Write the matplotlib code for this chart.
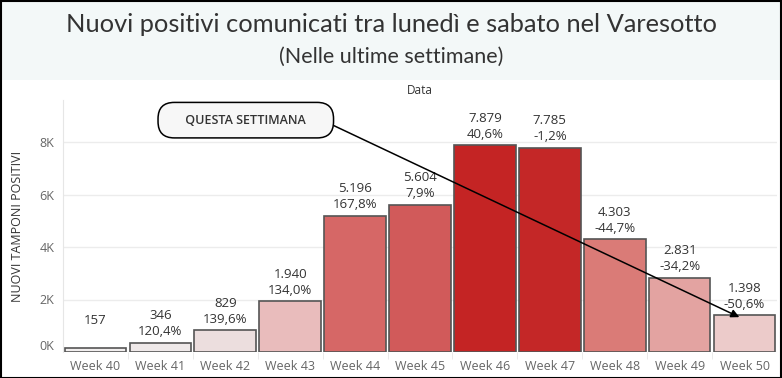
import matplotlib.pyplot as plt
from matplotlib.patches import Rectangle
from matplotlib.transforms import ScaledTranslation

plt.rcParams['font.family'] = ['Open Sans', 'DejaVu Sans']

# data
weeks = ['Week 40', 'Week 41', 'Week 42', 'Week 43', 'Week 44', 'Week 45',
         'Week 46', 'Week 47', 'Week 48', 'Week 49', 'Week 50']
positivi = [157, 346, 829, 1940, 5196, 5604, 7879, 7785, 4303, 2831, 1398]
variazione = ['', '120,4%', '139,6%', '134,0%', '167,8%', '7,9%',
              '40,6%', '-1,2%', '-44,7%', '-34,2%', '-50,6%']
y_ticks = [0, 2000, 4000, 6000, 8000]
y_tick_labels = ['0K', '2K', '4K', '6K', '8K']

bar_colors = ['#f1eeee', '#efe9e9', '#ecdede', '#e9bcbc', '#d66766', '#d15a5a',
              '#c42424', '#c42727', '#da7b77', '#e3a3a1', '#eccbca']

W, H = 782, 378
fig = plt.figure(figsize=(W / 100, H / 100), dpi=100)

# title band
fig.patches.append(Rectangle((0, 1 - 80 / H), 1, 80 / H, transform=fig.transFigure,
                             facecolor='#f3f8f8', edgecolor='none', zorder=0))
fig.text(0.5, 1 - 25 / H, 'Nuovi positivi comunicati tra lunedì e sabato nel Varesotto',
         ha='center', va='center', fontsize=18.3, color='#333333', family=['Lato', 'DejaVu Sans'])
fig.text(0.5, 1 - 57 / H, '(Nelle ultime settimane)',
         ha='center', va='center', fontsize=15.5, color='#333333', family=['Lato', 'DejaVu Sans'])
fig.text(420 / W, 1 - 90 / H, 'Data', ha='center', va='center', fontsize=8.5, color='#333333')

ax = fig.add_axes([63 / W, 26 / H, 714 / W, 252 / H])
x = range(len(weeks))
ax.bar(x, positivi, width=0.95, color=bar_colors, edgecolor='#555555', linewidth=1.2, zorder=3)

for i, v in enumerate(positivi):
    lbl = f'{v:,}'.replace(',', '.')
    ax.annotate(lbl, (i, v), xytext=(0, 27), textcoords='offset pixels',
                ha='center', va='center', fontsize=9.5, color='#333333')
    if variazione[i]:
        ax.annotate(variazione[i], (i, v), xytext=(0, 11), textcoords='offset pixels',
                    ha='center', va='center', fontsize=9.5, color='#333333')

ax.set_xlim(-0.5, len(weeks) - 0.5)
ax.set_ylim(0, 9600)
ax.set_yticks(y_ticks)
ax.set_yticklabels(y_tick_labels)
ax.set_xticks(list(x))
ax.set_xticklabels(weeks)
ax.set_xticks([i + 0.5 for i in range(len(weeks) - 1)], minor=True)
ax.tick_params(axis='x', which='major', length=0, pad=6, labelsize=9, labelcolor='#666666')
ax.tick_params(axis='x', which='minor', length=5, color='#e6e6e6')
ax.tick_params(axis='y', length=0, pad=6, labelsize=9, labelcolor='#666666')
ax.yaxis.grid(True, color='#ececec', linewidth=1, zorder=0)
for s in ['top', 'right', 'bottom']:
    ax.spines[s].set_visible(False)
ax.spines['left'].set_color('#e6e6e6')

# Tableau draws the 0K label a bit above the baseline
lab0 = ax.get_yticklabels()[0]
lab0.set_transform(lab0.get_transform() + ScaledTranslation(0, 7 / 100, fig.dpi_scale_trans))

ax.set_ylabel('NUOVI TAMPONI POSITIVI', fontsize=9, color='#333333', labelpad=11)

last = len(weeks) - 1
ax.annotate('     QUESTA SETTIMANA     ', xy=(last - 0.08, positivi[last] - 70),
            xytext=(0.256, 0.92), textcoords='axes fraction',
            ha='center', va='center', fontsize=9, fontweight='semibold', color='#333333',
            bbox=dict(boxstyle='round,pad=0.9,rounding_size=1.3',
                      facecolor='#f7f7f7', edgecolor='black', linewidth=1.1),
            arrowprops=dict(arrowstyle='-|>', color='black', lw=1.1,
                            mutation_scale=12, relpos=(1.0, 0.5), shrinkA=0, shrinkB=0),
            zorder=5)

fig.patches.append(Rectangle((0.5 / W, 0.5 / H), 1 - 1.5 / W, 1 - 1.5 / H,
                             transform=fig.transFigure, facecolor='none',
                             edgecolor='black', linewidth=1.5, zorder=10))

fig.savefig('out.png', dpi=100)
